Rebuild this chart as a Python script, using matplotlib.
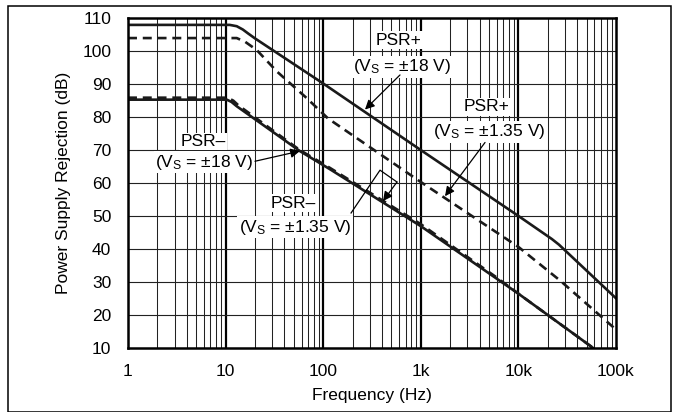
import numpy as np
import matplotlib
matplotlib.use('Agg')
import matplotlib.pyplot as plt
from matplotlib.patches import Rectangle

plt.rcParams['font.family'] = ['Liberation Sans', 'DejaVu Sans']
plt.rcParams['mathtext.fontset'] = 'custom'
plt.rcParams['mathtext.rm'] = 'Liberation Sans'
plt.rcParams['mathtext.it'] = 'Liberation Sans'

# ---- data (Hz, dB) ----
f_pos18 = [1, 11, 13, 15, 17, 20, 100, 1000, 10000, 22000, 26000, 100000]
db_pos18 = [108, 108, 107.6, 106.6, 105.4, 103.9, 90.2, 70, 50, 43, 41.3, 25]

f_pos135 = [1, 13, 15.8, 20.8, 33.4, 67.6, 112, 1000, 10000, 26700, 100000]
db_pos135 = [104, 104, 102.9, 100.4, 93.9, 85.8, 79.6, 60.3, 40.6, 30.4, 15.5]

f_neg18 = [1, 10.3, 11.5, 13, 57.6, 117, 1000, 10000, 56000, 60000]
db_neg18 = [85.3, 85.3, 84.6, 83.3, 69.7, 64.2, 46.9, 26.4, 10.3, 9.6]

f_neg135 = [1, 10.5, 12, 13.5, 57.6, 117, 1000, 6000, 10000, 56000, 60000]
db_neg135 = [85.9, 85.9, 85.0, 83.6, 70.0, 64.6, 47.5, 31.3, 26.4, 10.3, 9.6]

xticks = [1, 10, 100, 1000, 10000, 100000]
xtick_labels = ['1', '10', '100', '1k', '10k', '100k']
yticks = list(range(10, 111, 10))

FS = 12.5

fig = plt.figure(figsize=(6.73, 4.12), dpi=100)
ax = fig.add_axes([128 / 673, 1 - 347.7 / 412, 488 / 673, 329.4 / 412])

ax.set_xscale('log')
ax.set_xlim(1, 1e5)
ax.set_ylim(10, 110)

# grid: thin minor lines, heavy decade lines
for dec in range(5):
    for m in range(2, 10):
        ax.axvline(m * 10 ** dec, color='#222222', lw=0.75, zorder=1)
for d in xticks[1:-1]:
    ax.axvline(d, color='black', lw=1.6, zorder=1)
for y in yticks[1:-1]:
    ax.axhline(y, color='#222222', lw=0.8, zorder=1)

# curves
ax.plot(f_pos18, db_pos18, color='#1a1a1a', lw=1.9, zorder=3)
ax.plot(f_pos135, db_pos135, color='#1a1a1a', lw=1.9, dashes=(3.4, 2.2), zorder=3)
ax.plot(f_neg18, db_neg18, color='#1a1a1a', lw=1.9, zorder=3)
ax.plot(f_neg135, db_neg135, color='#1a1a1a', lw=1.9, dashes=(3.4, 2.2), zorder=4)

ax.set_xticks(xticks)
ax.set_xticklabels(xtick_labels)
ax.xaxis.set_minor_locator(matplotlib.ticker.NullLocator())
ax.set_yticks(yticks)
ax.tick_params(length=0, labelsize=FS)
ax.tick_params(axis='x', pad=12)
ax.tick_params(axis='y', pad=12)
for sp in ax.spines.values():
    sp.set_linewidth(1.8)
    sp.set_zorder(6)

ax.set_xlabel('Frequency (Hz)', fontsize=FS, labelpad=6)
ax.set_ylabel('Power Supply Rejection (dB)', fontsize=FS, labelpad=8)

# annotations
box = dict(facecolor='white', edgecolor='none', pad=1.0)
arrow = dict(arrowstyle='-|>', color='black', lw=0.9, mutation_scale=14,
             shrinkA=0, shrinkB=0)

ax.text(598, 103.3, 'PSR+', ha='center', va='center', fontsize=FS, bbox=box, zorder=5)
ax.text(641, 95.3, r'(V$_{\rm S}$ = ±18 V)', ha='center', va='center', fontsize=FS, bbox=box, zorder=5)
ax.annotate('', xy=(268, 82.3), xytext=(612, 92.8), arrowprops=arrow, zorder=5)

ax.text(4770, 83.1, 'PSR+', ha='center', va='center', fontsize=FS, bbox=box, zorder=5)
ax.text(5000, 75.6, r'(V$_{\rm S}$ = ±1.35 V)', ha='center', va='center', fontsize=FS, bbox=box, zorder=5)
ax.annotate('', xy=(1770, 56.0), xytext=(4550, 72.3), arrowprops=arrow, zorder=5)

ax.text(5.87, 72.6, 'PSR–', ha='center', va='center', fontsize=FS, bbox=box, zorder=5)
ax.text(6.0, 66.3, r'(V$_{\rm S}$ = ±18 V)', ha='center', va='center', fontsize=FS, bbox=box, zorder=5)
ax.annotate('', xy=(57.8, 69.7), xytext=(20.0, 66.6), arrowprops=arrow, zorder=5)

ax.text(49.1, 53.9, 'PSR–', ha='center', va='center', fontsize=FS, bbox=box, zorder=5)
ax.text(51.4, 46.6, r'(V$_{\rm S}$ = ±1.35 V)', ha='center', va='center', fontsize=FS, bbox=box, zorder=5)
ax.plot([193, 382, 570], [50.9, 63.9, 60.3], color='black', lw=0.9, zorder=5)
ax.annotate('', xy=(410, 54.5), xytext=(570, 60.3), arrowprops=arrow, zorder=5)

# outer frame
fig.patches.append(Rectangle((8 / 673, 0.5 / 412), 663 / 673, 406 / 412,
                             transform=fig.transFigure, fill=False,
                             edgecolor='black', lw=1.1))

fig.savefig('out.png', dpi=100)
